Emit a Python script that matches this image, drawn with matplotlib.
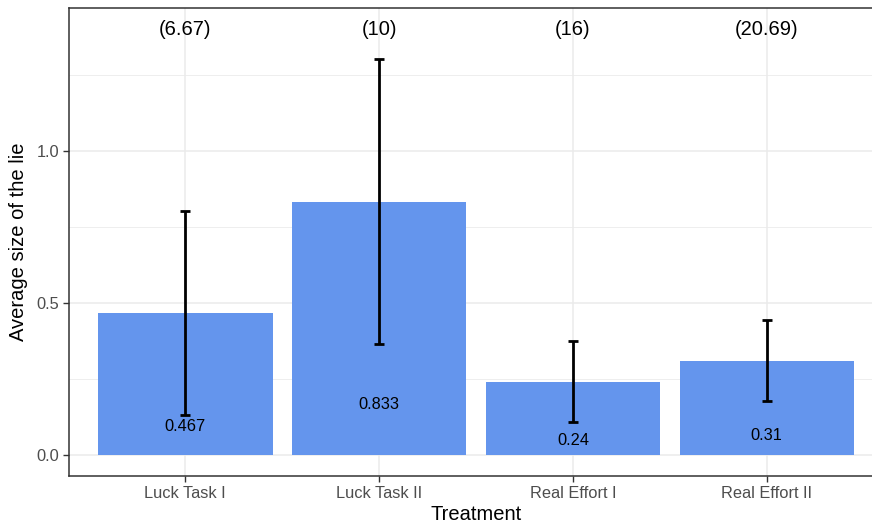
import matplotlib
matplotlib.use("Agg")
import matplotlib.pyplot as plt
from matplotlib.ticker import MultipleLocator, FormatStrFormatter

plt.rcParams['font.family'] = ['Liberation Sans', 'DejaVu Sans']

# Treatment groups, mean lie size, error half-width, share labels
treatments = ["Luck Task I", "Luck Task II", "Real Effort I", "Real Effort II"]
mean_lie = [0.467, 0.833, 0.24, 0.31]
err_half = [0.336, 0.469, 0.133, 0.133]
share_labels = ["(6.67)", "(10)", "(16)", "(20.69)"]
share_y = 1.4

fig = plt.figure(figsize=(8.72, 5.30), dpi=100)
# panel runs slightly past the right edge of the canvas
ax = fig.add_axes([69 / 872, 54 / 530, 814 / 872, 468 / 530])

x = list(range(1, len(treatments) + 1))
ax.bar(x, mean_lie, width=0.9, color="#6495ED", zorder=2)
ax.errorbar(x, mean_lie, yerr=err_half, fmt="none", ecolor="black",
            elinewidth=2.0, capsize=3.6, capthick=2.0, zorder=3)

for xi, v in zip(x, mean_lie):
    ax.text(xi, v * 0.2, f"{v:g}", ha="center", va="center",
            fontsize=11.8, color="black", zorder=4)
for xi, lab in zip(x, share_labels):
    ax.text(xi, share_y, lab, ha="center", va="center",
            fontsize=14.5, color="black", zorder=4)

ax.set_xlim(0.4, 4.6)
ax.set_ylim(-0.07, 1.47)
ax.set_xticks(x)
ax.set_xticklabels(treatments)
ax.yaxis.set_major_locator(MultipleLocator(0.5))
ax.yaxis.set_minor_locator(MultipleLocator(0.25))
ax.yaxis.set_major_formatter(FormatStrFormatter("%.1f"))

ax.set_axisbelow(True)
ax.grid(True, which="major", color="#EBEBEB", linewidth=1.1, zorder=0)
ax.grid(True, which="minor", axis="y", color="#EBEBEB", linewidth=0.6, zorder=0)

ax.tick_params(axis="both", which="major", length=4, width=1.0,
               color="#333333", labelcolor="#4D4D4D", labelsize=11.8, pad=3)
ax.tick_params(axis="y", which="minor", length=0)
for s in ax.spines.values():
    s.set_color("#333333")
    s.set_linewidth(1.1)

ax.set_xlabel("Treatment", fontsize=14.5, labelpad=3)
ax.set_ylabel("Average size of the lie", fontsize=14.5, labelpad=6)

fig.savefig("out.png", dpi=100)
